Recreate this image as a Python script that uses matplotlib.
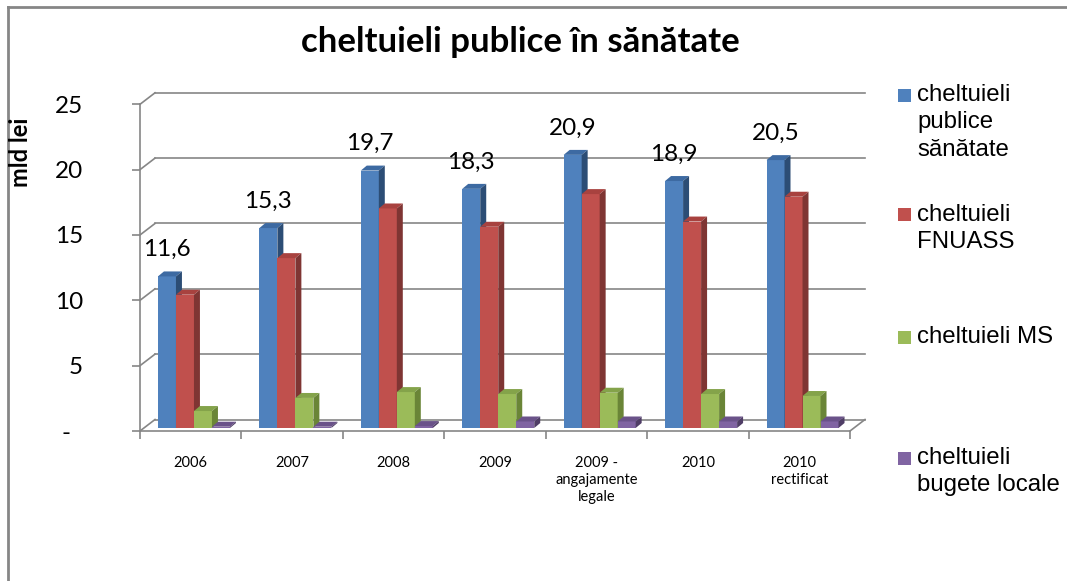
import matplotlib
matplotlib.use("Agg")
import matplotlib.pyplot as plt
from matplotlib.patches import Polygon, Rectangle
from matplotlib.lines import Line2D

categories = ["2006", "2007", "2008", "2009", "2009 -\nangajamente\nlegale", "2010", "2010\nrectificat"]
publice = [11.6, 15.3, 19.7, 18.3, 20.9, 18.9, 20.5]
fnuass = [10.2, 13.0, 16.8, 15.4, 17.9, 15.8, 17.7]
ms = [1.3, 2.3, 2.75, 2.6, 2.7, 2.6, 2.45]
locale = [0.1, 0.1, 0.15, 0.5, 0.5, 0.5, 0.5]
series_names = ["cheltuieli\npublice\nsănătate", "cheltuieli\nFNUASS", "cheltuieli MS", "cheltuieli\nbugete locale"]
series = [publice, fnuass, ms, locale]
y_ticks = [0, 5, 10, 15, 20, 25]
y_labels = ["-  ", "5", "10", "15", "20", "25"]

front = ["#4F81BD", "#C0504D", "#9BBB59", "#8064A2"]
top_c = ["#3D6AA2", "#A8423F", "#84A34A", "#6A5289"]
side_c = ["#2C4D75", "#7F3533", "#6A8537", "#4F3D66"]
grid_c = "#868686"

W_PX, H_PX = 1067, 581
fig = plt.figure(figsize=(W_PX / 100, H_PX / 100), dpi=100)

# 3d look: floor depth and bar depth in data units
DX, DY = 0.148, 0.88
BDX, BDY = 0.059, 0.38
OX, OY = 0.039, 0.23
BW = 0.1775

ax = fig.add_axes([140 / W_PX, (H_PX - 431) / H_PX, 725 / W_PX, 338.2 / H_PX])
ax.set_xlim(0, 7 + DX)
ax.set_ylim(0, 25 + DY)
for s in ax.spines.values():
    s.set_visible(False)

lw = 1.2
for v in y_ticks:
    ax.plot([DX, 7 + DX], [v + DY, v + DY], color=grid_c, lw=lw, zorder=1, clip_on=False)
    ax.plot([0, DX], [v, v + DY], color=grid_c, lw=lw, zorder=1, clip_on=False)
ax.plot([0, 7], [0, 0], color=grid_c, lw=lw, zorder=1, clip_on=False)
ax.plot([7, 7 + DX], [0, DY], color=grid_c, lw=lw, zorder=1, clip_on=False)
ax.plot([0, 0], [0, 25], color=grid_c, lw=lw, zorder=1, clip_on=False)

ax.set_yticks(y_ticks)
ax.set_yticklabels(y_labels, family="Lato", fontsize=17.5)
ax.tick_params(axis="y", length=6, width=lw, color=grid_c, pad=35)

ax.set_xticks([i + 0.5 for i in range(len(categories))])
ax.set_xticklabels(categories, family="Lato", fontsize=10.5, linespacing=1.25, va="top")
ax.set_xticks(range(len(categories) + 1), minor=True)
ax.tick_params(axis="x", which="major", length=0, pad=18)
ax.tick_params(axis="x", which="minor", length=6, width=lw, color=grid_c)

for j, vals in enumerate(series):
    xs = [i + 0.138 + OX + BW * j for i in range(len(vals))]
    ax.bar(xs, vals, width=BW, bottom=OY, align="edge", color=front[j],
           linewidth=0, zorder=3 + j)
    for x, v in zip(xs, vals):
        t = OY + v
        ax.add_patch(Polygon([(x, t), (x + BW, t), (x + BW + BDX, t + BDY), (x + BDX, t + BDY)],
                             closed=True, fc=top_c[j], ec="none", zorder=3 + j))
        ax.add_patch(Polygon([(x + BW, OY), (x + BW + BDX, OY + BDY), (x + BW + BDX, t + BDY), (x + BW, t)],
                             closed=True, fc=side_c[j], ec="none", zorder=3 + j))
        if j == 0:
            ax.text(x + BW / 2, t + 1.55, f"{v:.1f}".replace(".", ","), ha="center", va="baseline",
                    family="Lato", fontsize=17.5, zorder=10)

fig.text(520 / W_PX, 1 - 42 / H_PX, "cheltuieli publice în sănătate", ha="center", va="center",
         family="Lato", fontweight="bold", fontsize=25)
fig.text(20 / W_PX, 1 - 152 / H_PX, "mld lei", ha="center", va="center", rotation=90,
         family="Lato", fontweight="bold", fontsize=17)

# legend
row_y = [95, 215, 337, 458]
for name, c, y in zip(series_names, front, row_y):
    fig.patches.append(Rectangle((898 / W_PX, 1 - (y + 6.5) / H_PX), 13 / W_PX, 13 / H_PX,
                                 transform=fig.transFigure, fc=c, ec="none"))
    fig.text(917 / W_PX, 1 - (y - 11) / H_PX, name, ha="left", va="top",
             family="Liberation Sans", fontsize=17.3, linespacing=1.32)

# frame
fig.add_artist(Line2D([8 / W_PX, 1], [1 - 7 / H_PX, 1 - 7 / H_PX], color=grid_c, lw=2,
                      transform=fig.transFigure))
fig.add_artist(Line2D([8 / W_PX, 8 / W_PX], [0, 1 - 7 / H_PX], color=grid_c, lw=2,
                      transform=fig.transFigure))

fig.savefig("out.png", dpi=100)
